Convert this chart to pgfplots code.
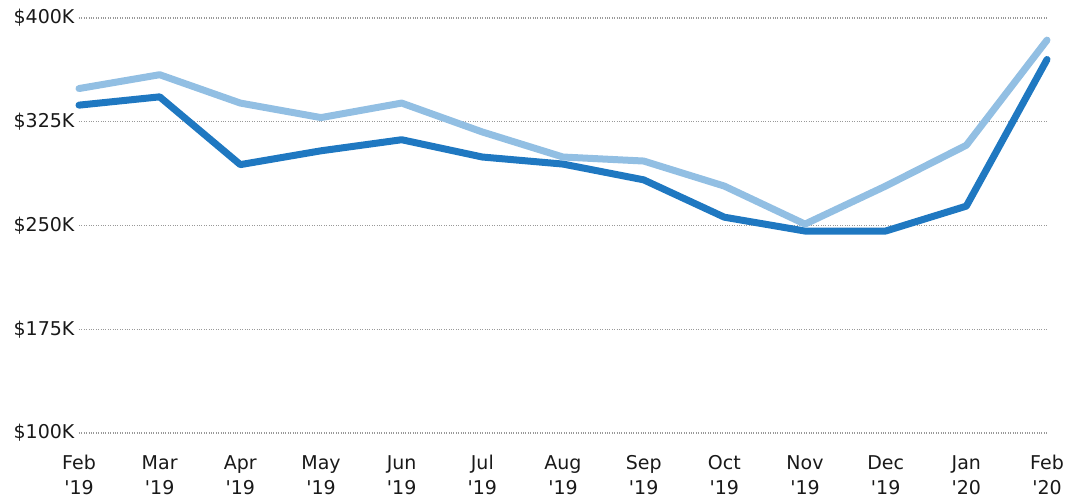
\documentclass[border=0pt]{standalone}
\usepackage{pgfplots}
\pgfplotsset{compat=1.18}
\usepackage{fontspec}
\setmainfont{DejaVu Sans}[Ligatures=TeXOff]
\definecolor{darkb}{RGB}{31,120,193}
\definecolor{lightb}{RGB}{146,191,227}
\definecolor{txt}{RGB}{25,25,25}
\begin{document}
\begin{tikzpicture}
\begin{axis}[
  scale only axis, width=968pt, height=415pt,
  xmin=0, xmax=12, ymin=100, ymax=400,
  axis line style={draw=none},
  tick style={draw=none},
  xtick={0,...,12},
  xticklabels={Feb\\'19,Mar\\'19,Apr\\'19,May\\'19,Jun\\'19,Jul\\'19,Aug\\'19,Sep\\'19,Oct\\'19,Nov\\'19,Dec\\'19,Jan\\'20,Feb\\'20},
  xticklabel style={align=center, font=\fontsize{19}{25}\selectfont, text=txt, yshift=-19pt},
  ytick={100,175,250,325,400},
  yticklabels={\$100K,\$175K,\$250K,\$325K,\$400K},
  yticklabel style={font=\fontsize{19}{22}\selectfont, text=txt, xshift=-1pt},
  ymajorgrids,
  major grid style={draw=gray!80, dotted, line width=1.1pt},
  clip=false,
]
\addplot[darkb, line width=7pt, line join=round, line cap=round] coordinates {
(0,337) (1,343) (2,294) (3,304) (4,312) (5,299.5) (6,294.4) (7,283) (8,256) (9,246) (10,246) (11,264) (12,370)};
\addplot[lightb, line width=7pt, line join=round, line cap=round] coordinates {
(0,349) (1,359) (2,338.5) (3,328) (4,338.5) (5,317.6) (6,299.5) (7,296.6) (8,278.5) (9,251) (10,278.5) (11,308) (12,384)};
\end{axis}
\pgfresetboundingbox
\path[use as bounding box] (-79pt,-67pt) rectangle (1007pt,433pt);
\end{tikzpicture}
\end{document}
